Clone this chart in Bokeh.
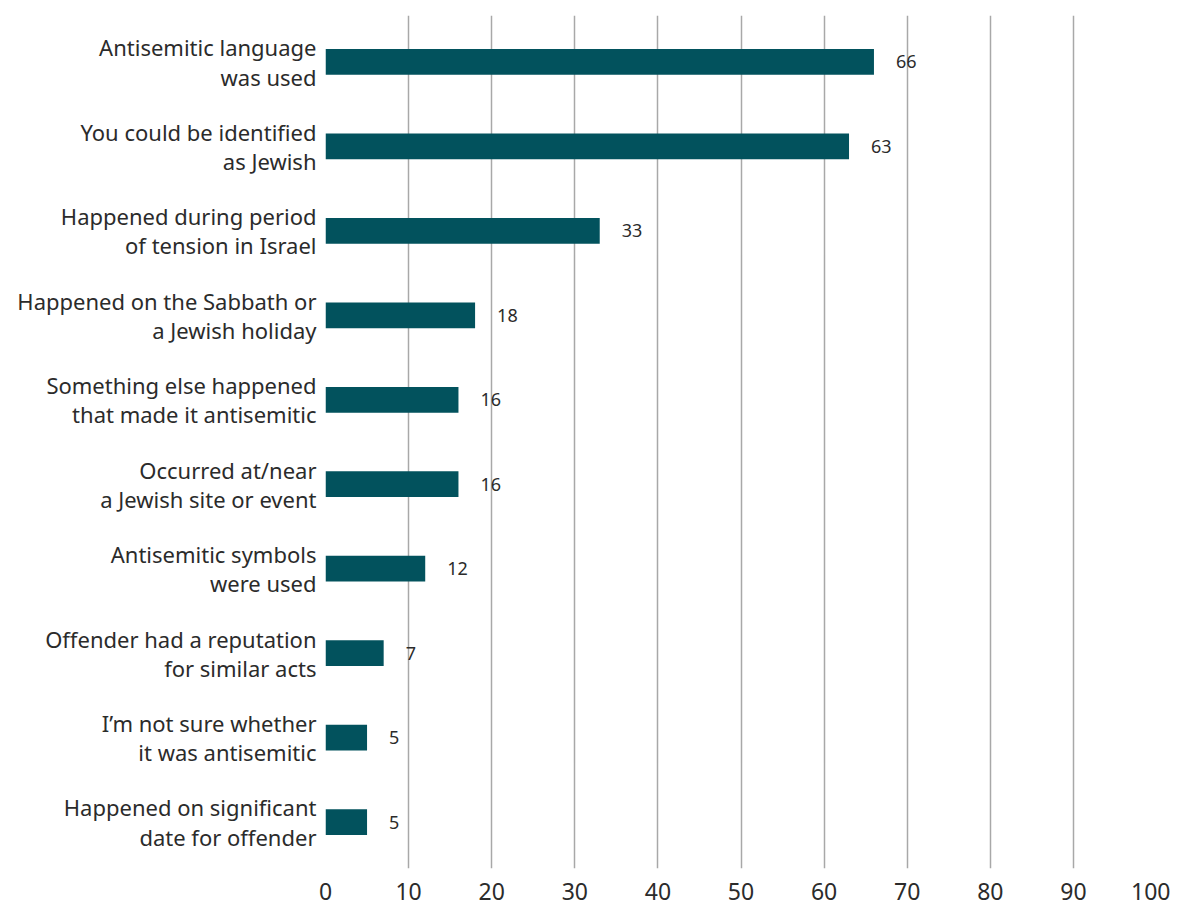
from bokeh.plotting import figure
from bokeh.models import FactorRange, Range1d, FixedTicker, ColumnDataSource
from bokeh.embed import file_html
from bokeh.resources import INLINE
from bokeh.core.properties import value

categories = [
    "Antisemitic language\nwas used",
    "You could be identified\nas Jewish",
    "Happened during period\nof tension in Israel",
    "Happened on the Sabbath or\na Jewish holiday",
    "Something else happened\nthat made it antisemitic",
    "Occurred at/near\na Jewish site or event",
    "Antisemitic symbols\nwere used",
    "Offender had a reputation\nfor similar acts",
    "I\u2019m not sure whether\nit was antisemitic",
    "Happened on significant\ndate for offender",
]
values = [66, 63, 33, 18, 16, 16, 12, 7, 5, 5]
x_ticks = [0, 10, 20, 30, 40, 50, 60, 70, 80, 90, 100]

FONT = "Noto Sans"
TXT = "#2b2b2b"

src = ColumnDataSource(dict(cat=categories, val=values, lab=[str(v) for v in values]))

p = figure(
    y_range=FactorRange(*categories[::-1], range_padding=0.05, range_padding_units="absolute"),
    x_range=Range1d(0, 100),
    width=1170, height=905,
    min_border_left=325, min_border_right=14, min_border_top=15, min_border_bottom=37,
    output_backend="svg", toolbar_location=None,
)
p.hbar(y="cat", right="val", height=0.305, source=src, color="#02525d", line_color=None)
p.text(x="val", y="cat", text="lab", source=src, x_offset=22,
       text_align="left", text_baseline="middle",
       text_font=value(FONT), text_font_size="18px", text_color=TXT)

p.outline_line_color = None
p.ygrid.grid_line_color = None
p.xgrid.grid_line_color = "#a8a8a8"
p.xgrid.grid_line_width = 1.5
p.xaxis.ticker = FixedTicker(ticks=x_ticks)
p.xaxis.axis_line_color = None
p.xaxis.major_tick_line_color = None
p.xaxis.minor_tick_line_color = None
p.xaxis.major_label_text_font = FONT
p.xaxis.major_label_text_font_size = "23px"
p.xaxis.major_label_text_color = TXT
p.xaxis.major_label_standoff = 8

p.yaxis.axis_line_color = None
p.yaxis.major_tick_line_color = None
p.yaxis.minor_tick_line_color = None
p.yaxis.major_label_text_font = FONT
p.yaxis.major_label_text_font_size = "22px"
p.yaxis.major_label_text_line_height = 0.97
p.yaxis.major_label_text_color = TXT
p.yaxis.major_label_standoff = 3

open("out.html", "w").write(file_html(p, INLINE))
